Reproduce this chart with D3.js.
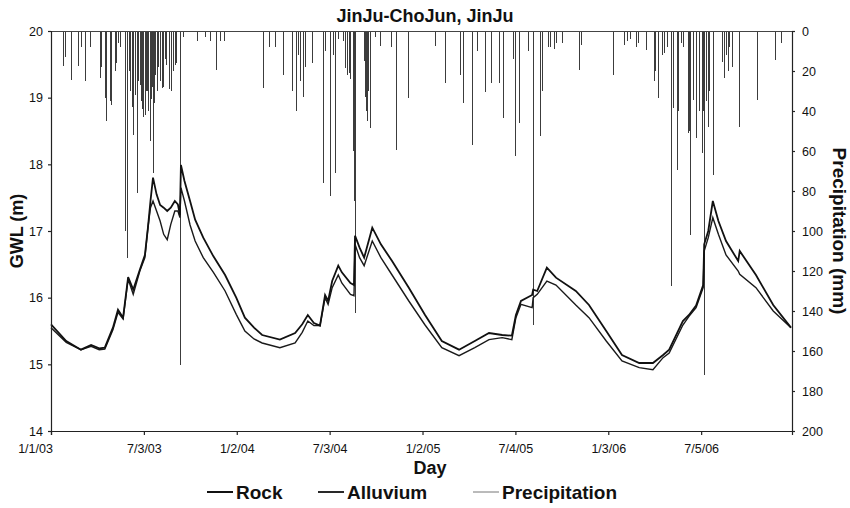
<!DOCTYPE html>
<html>
<head>
<meta charset="utf-8">
<script src="https://cdn.jsdelivr.net/npm/d3@7"></script>
<style>
  body { margin: 0; background: #fff; }
  text { font-family: "Liberation Sans", Arial, sans-serif; fill: #111; }
</style>
</head>
<body>
<svg id="chart" width="850" height="508"></svg>
<script>
// days counted from 1/1/03
var startDate = Date.UTC(2003, 0, 1);
var lastDay = 1460;

var tickDays = [0, 183, 366, 549, 732, 915, 1098, 1281];
var tickLabels = ["1/1/03", "7/3/03", "1/2/04", "7/3/04", "1/2/05", "7/4/05", "1/3/06", "7/5/06"];

var gwlDays = [0, 30, 59, 79, 95, 106, 122, 132, 142, 152, 162, 175, 185, 191, 196, 201, 208, 215, 222, 229, 236, 244, 250, 254, 256, 263, 274, 284, 300, 320, 343, 365, 382, 400, 416, 451, 481, 495, 506, 518, 530, 540, 546, 554, 566, 573, 590, 597, 599, 608, 617, 633, 650, 672, 705, 737, 770, 804, 835, 863, 889, 908, 916, 926, 948, 950, 958, 977, 995, 1034, 1060, 1094, 1125, 1159, 1186, 1206, 1218, 1245, 1257, 1271, 1285, 1287, 1295, 1304, 1315, 1330, 1354, 1357, 1389, 1423, 1458];

var rock = [15.60, 15.35, 15.22, 15.29, 15.24, 15.25, 15.55, 15.82, 15.70, 16.31, 16.12, 16.42, 16.64, 17.05, 17.45, 17.80, 17.55, 17.39, 17.35, 17.30, 17.35, 17.45, 17.40, 17.24, 17.99, 17.75, 17.45, 17.17, 16.90, 16.62, 16.34, 16.00, 15.70, 15.55, 15.44, 15.37, 15.47, 15.60, 15.74, 15.62, 15.58, 16.04, 15.95, 16.25, 16.48, 16.38, 16.22, 16.19, 16.93, 16.75, 16.60, 17.05, 16.80, 16.55, 16.15, 15.74, 15.35, 15.22, 15.35, 15.47, 15.44, 15.43, 15.74, 15.95, 16.04, 16.12, 16.10, 16.45, 16.30, 16.10, 15.89, 15.50, 15.14, 15.02, 15.02, 15.14, 15.22, 15.65, 15.74, 15.88, 16.19, 16.80, 17.00, 17.45, 17.15, 16.85, 16.55, 16.70, 16.34, 15.89, 15.55];

var alluvium = [15.55, 15.33, 15.22, 15.27, 15.22, 15.23, 15.52, 15.78, 15.68, 16.28, 16.05, 16.40, 16.60, 17.05, 17.35, 17.45, 17.30, 17.15, 16.95, 16.87, 17.10, 17.30, 17.30, 17.20, 17.65, 17.45, 17.09, 16.85, 16.60, 16.38, 16.10, 15.75, 15.50, 15.38, 15.32, 15.25, 15.32, 15.48, 15.65, 15.58, 15.58, 16.00, 15.90, 16.15, 16.34, 16.22, 16.05, 16.03, 16.80, 16.60, 16.48, 16.85, 16.60, 16.34, 15.95, 15.59, 15.25, 15.13, 15.25, 15.37, 15.40, 15.37, 15.70, 15.90, 15.85, 16.00, 16.05, 16.25, 16.19, 15.89, 15.70, 15.35, 15.05, 14.95, 14.92, 15.10, 15.17, 15.59, 15.72, 15.85, 16.15, 16.70, 16.90, 17.20, 16.95, 16.64, 16.40, 16.35, 16.15, 15.80, 15.55];

var rainDays = [24, 28, 39, 53, 59, 67, 77, 97, 99, 106, 108, 116, 118, 126, 128, 132, 136, 146, 150, 153, 156, 159, 162, 165, 169, 172, 175, 177, 179, 181, 185, 187, 189, 192, 195, 197, 199, 201, 203, 205, 208, 211, 215, 219, 221, 224, 227, 232, 236, 240, 244, 246, 254, 260, 287, 303, 313, 325, 333, 341,
  418, 429, 441, 457, 475, 483, 487, 491, 496, 500, 514, 536, 540, 550, 556, 559, 565, 575, 579, 583, 587, 589, 595, 597, 599, 617, 619, 621, 623, 625, 628, 638, 648, 670, 680, 704,
  756, 776, 806, 812, 829, 839, 855, 867, 883, 890, 910, 914, 922, 940, 950, 963, 967, 979, 983, 991, 995, 1007, 1040, 1044,
  1107, 1129, 1135, 1141, 1152, 1156, 1172, 1188, 1190, 1196, 1204, 1208, 1214, 1221, 1225, 1233, 1235, 1241, 1245, 1255, 1257, 1259, 1265, 1271, 1277, 1282, 1284, 1286, 1290, 1294, 1296, 1304, 1322, 1326, 1330, 1334, 1336, 1342, 1355, 1391, 1426, 1438];

var rainMM = [17.5, 13, 24.5, 17.5, 8, 25, 8, 23.5, 18, 33.5, 45, 35, 37, 20, 16, 6, 8, 100, 113.5, 20, 30, 38, 52, 32, 81, 25, 27, 35, 39, 43, 42, 30, 30, 40, 55, 34, 28, 71, 36, 22, 30, 18, 25, 28.5, 28, 14, 17, 29, 30, 20, 17, 16, 167, 3, 5, 3, 5, 19.5, 5, 5,
  28.5, 8, 8, 22, 30, 40, 12, 25, 33, 18, 16, 76, 10, 82.5, 12, 71, 4, 5, 18.5, 22, 21, 24, 60, 85, 141, 15, 33, 40, 45, 30, 48.5, 3, 7.5, 8, 59.5, 33.5,
  7.5, 26, 22, 36, 57, 10, 30.5, 26, 26, 43.5, 14, 62.5, 46, 10, 147, 52.5, 30, 8, 8, 9, 6, 6, 19.5, 7,
  22, 7, 5, 4, 8, 6, 9.5, 25, 20, 33.5, 12, 11, 8, 127.5, 38.5, 69.5, 40, 6, 8, 51, 50, 102, 34.5, 53.5, 40, 61, 40, 172, 35, 48, 30, 72, 15.5, 23.5, 12, 20, 8, 18, 48, 34.5, 14.5, 6];

var svg = d3.select("#chart"),
    margin = { top: 31, right: 58, bottom: 77, left: 51 },
    width = +svg.attr("width") - margin.left - margin.right,
    height = +svg.attr("height") - margin.top - margin.bottom,
    g = svg.append("g").attr("transform", "translate(" + margin.left + "," + margin.top + ")");

function toDate(d) { return d3.utcDay.offset(new Date(startDate), d); }

var x = d3.scaleUtc()
    .domain([toDate(0), toDate(lastDay)])
    .range([0, width]);

var y = d3.scaleLinear().domain([14, 20]).range([height, 0]);
var y2 = d3.scaleLinear().domain([0, 200]).range([0, height]);

// precipitation bars hanging from the top
g.append("g").selectAll("rect")
    .data(rainDays.map(function(d, i) { return { day: d, mm: rainMM[i] }; }))
    .enter().append("rect")
    .attr("x", function(d) { return Math.round(x(toDate(d.day))); })
    .attr("y", y2(0))
    .attr("width", 1)
    .attr("height", function(d) { return y2(d.mm) - y2(0); })
    .style("fill", "#3c3c3c")
    .style("shape-rendering", "crispEdges");

g.append("line")
    .attr("x1", 0).attr("x2", width).attr("y1", 0.5).attr("y2", 0.5)
    .style("stroke", "#444").style("stroke-width", 1);

var line = d3.line()
    .x(function(d) { return x(toDate(d[0])); })
    .y(function(d) { return y(d[1]); });

g.append("path")
    .datum(gwlDays.map(function(d, i) { return [d, alluvium[i]]; }))
    .attr("d", line)
    .style("fill", "none").style("stroke", "#1a1a1a").style("stroke-width", 1.4);

g.append("path")
    .datum(gwlDays.map(function(d, i) { return [d, rock[i]]; }))
    .attr("d", line)
    .style("fill", "none").style("stroke", "#111").style("stroke-width", 1.8);

// axes
var xAxis = d3.axisBottom(x)
    .tickValues(tickDays.map(toDate))
    .tickFormat(function(d, i) { return tickLabels[i]; })
    .tickSizeOuter(0).tickSize(4).tickPadding(9);

var gx = g.append("g").attr("class", "axis")
    .attr("transform", "translate(0," + height + ")")
    .call(xAxis);
// first label sits left of its tick, as in the original
gx.selectAll(".tick text").filter(function(d, i) { return i === 0; }).attr("dx", -16);

g.append("g").attr("class", "axis")
    .call(d3.axisLeft(y).ticks(6).tickFormat(d3.format("d")).tickSizeOuter(0).tickSize(3).tickPadding(5));

g.append("g").attr("class", "axis")
    .attr("transform", "translate(" + width + ",0)")
    .call(d3.axisRight(y2).ticks(10).tickSizeOuter(0).tickSize(3).tickPadding(7));

svg.selectAll(".axis path, .axis line").style("stroke", "#222").style("stroke-width", 1.2);
svg.selectAll(".axis text").style("font-size", "12.5px").style("font-family", "Liberation Sans, Arial, sans-serif").style("fill", "#111");

// titles
svg.append("text")
    .attr("x", 425).attr("y", 22)
    .attr("text-anchor", "middle")
    .style("font-size", "18px").style("font-weight", "bold")
    .text("JinJu-ChoJun, JinJu");

svg.append("text")
    .attr("x", 430).attr("y", 474)
    .attr("text-anchor", "middle")
    .style("font-size", "18px").style("font-weight", "bold")
    .text("Day");

svg.append("text")
    .attr("transform", "translate(23," + (margin.top + height / 2) + ") rotate(-90)")
    .attr("text-anchor", "middle")
    .style("font-size", "18px").style("font-weight", "bold")
    .text("GWL (m)");

svg.append("text")
    .attr("transform", "translate(833," + (margin.top + height / 2) + ") rotate(90)")
    .attr("text-anchor", "middle")
    .style("font-size", "19px").style("font-weight", "bold")
    .text("Precipitation (mm)");

// legend
var legendNames = ["Rock", "Alluvium", "Precipitation"];
var legendX = [207, 318, 473];
var legendStroke = ["#111", "#111", "#777"];
var legendWidth = [2, 1.8, 1];

var leg = svg.append("g").selectAll("g")
    .data(legendNames).enter().append("g")
    .attr("transform", function(d, i) { return "translate(" + legendX[i] + ",492)"; });

leg.append("line")
    .attr("x1", 0).attr("x2", 26).attr("y1", 0).attr("y2", 0)
    .style("stroke", function(d, i) { return legendStroke[i]; })
    .style("stroke-width", function(d, i) { return legendWidth[i]; });

leg.append("text")
    .attr("x", 29).attr("y", 7)
    .style("font-size", "19px").style("font-weight", "bold")
    .text(function(d) { return d; });
</script>
</body>
</html>
